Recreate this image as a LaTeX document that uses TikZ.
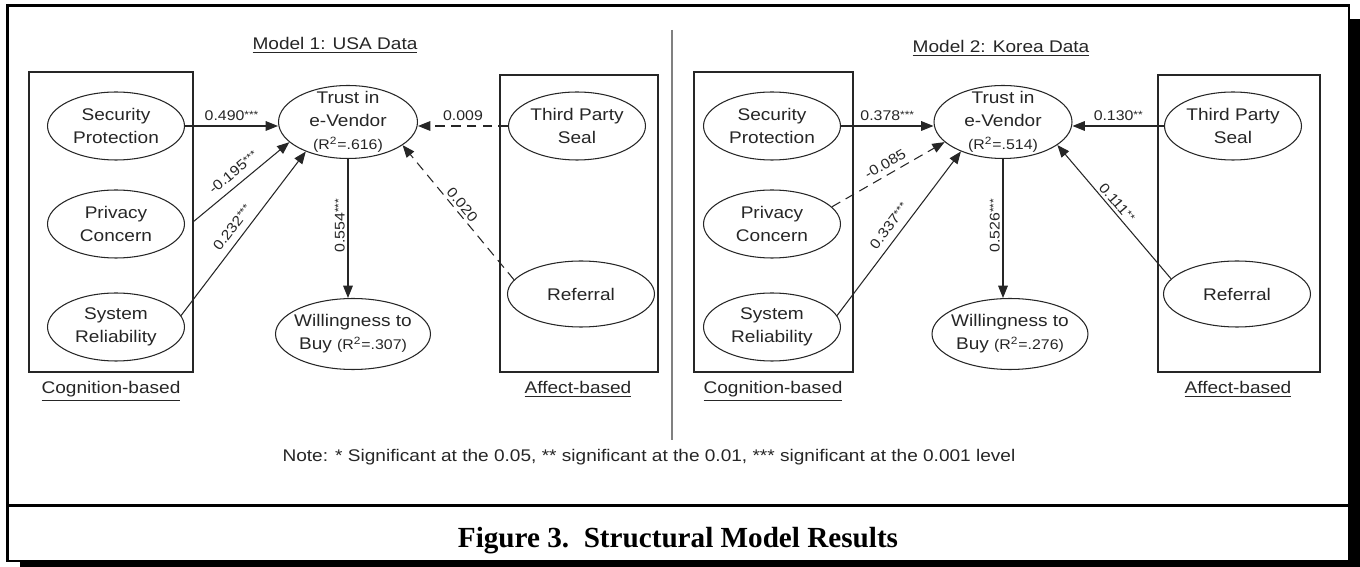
\documentclass[tikz,border=0pt]{standalone}
\usepackage{fontspec}
\setmainfont{Liberation Sans}[FakeStretch=1.13]
\newfontfamily\capfont{Liberation Serif}
\usetikzlibrary{arrows.meta,shapes.geometric}
\def\stars#1{\raisebox{1.4pt}{\fontsize{6}{6}\selectfont#1}}
\def\rsquare#1{{\fontsize{8}{10}\selectfont(R\textsuperscript{2}=#1)}}
\tikzset{
	construct/.style={ellipse, draw=black!85, line width=0.6pt, inner xsep=-4pt, inner ysep=-6pt, minimum width=2.74cm, minimum height=1.36cm, align=center, text=black!85, font=\fontsize{9.6}{13}\selectfont},
	grp/.style={draw=black!85, line width=0.6pt},
	pth/.style={draw=black!85, line width=0.6pt, -{Triangle[length=7pt,width=5.5pt]}},
	dpth/.style={pth, dash pattern=on 5.5pt off 3.5pt},
	coef/.style={text=black!85, font=\fontsize{8}{10}\selectfont, inner sep=1.5pt},
	scoef/.style={coef, sloped, above, inner ysep=4pt},
	hdr/.style={text=black!85, font=\fontsize{9.6}{12}\selectfont, anchor=base}
}

\begin{document}
\begin{tikzpicture}[x=0.02cm, y=-0.02cm]
			\useasboundingbox (0,0) rectangle (1360,567);
			
			%%%%% FRAME %%%%%
			
			\fill (20,561) rectangle (1360,567);
			\fill (1349,19) rectangle (1360,567);
			\draw[line width=1.4pt, fill=white] (7.5,5.5) rectangle (1349,561);
			\draw[line width=1.2pt] (7.5,505.5) -- (1349,505.5);
			\draw[line width=1pt, color=black!50] (672,30) -- (672,440);
			
			%%%%% MODEL 1 %%%%%
			
			\node[hdr] (ttl1) at (335,50) {\underline{Model 1: USA Data}};
			\draw[grp] (29,72) rectangle (193,372);
			\draw[grp] (500,75) rectangle (658,372);
			\node[hdr] (cog1) at (111,394) {\underline{Cognition-based}};
			\node[hdr] (aff1) at (578,394) {\underline{Affect-based}};
			
			\node[construct] (sp1) at (116,126) {Security\\Protection};
			\node[construct] (pc1) at (116,224) {Privacy\\Concern};
			\node[construct] (sr1) at (116,327) {System\\Reliability};
			\node[construct, minimum width=2.78cm, minimum height=1.46cm] (tr1) at (348,122) {Trust in\\e-Vendor\\\rsquare{.616}};
			\node[construct, minimum width=3.1cm, minimum height=1.42cm] (wb1) at (353,334) {Willingness to\\Buy \rsquare{.307}};
			\node[construct] (tp1) at (577,126) {Third Party\\Seal};
			\node[construct, minimum width=2.94cm, minimum height=1.32cm] (rf1) at (581,294) {Referral};
			\coordinate (pc1out) at (193,222);
			
			\draw[pth] (sp1.east) -- (sp1.east -| tr1.west) node[coef, midway, above=1pt] {0.490\stars{***}};
			\draw[pth] (pc1out) -- (tr1.199) node[scoef, midway] {-0.195\stars{***}};
			\draw[pth] (sr1.10) -- (tr1.215) node[scoef, pos=.49] {0.232\stars{***}};
			\draw[pth] (tr1.south) -- (tr1.south |- wb1.north) node[coef, pos=.48, rotate=90, anchor=south] {0.554\stars{***}};
			\draw[dpth] (tp1.west) -- (tp1.west -| tr1.east) node[coef, midway, above=1pt] {0.009};
			\draw[dpth] (rf1.168) -- (tr1.337) node[coef, pos=.52, sloped, above] {0.020};
			
			%%%%% MODEL 2 %%%%%
			
			\node[hdr] (ttl2) at (1001,53) {\underline{Model 2: Korea Data}};
			\draw[grp] (694,72) rectangle (853,372);
			\draw[grp] (1158,75) rectangle (1320,372);
			\node[hdr] (cog2) at (773,394) {\underline{Cognition-based}};
			\node[hdr] (aff2) at (1238,394) {\underline{Affect-based}};
			
			\node[construct] (sp2) at (772,126) {Security\\Protection};
			\node[construct] (pc2) at (772,224) {Privacy\\Concern};
			\node[construct] (sr2) at (772,327) {System\\Reliability};
			\node[construct, minimum width=2.76cm, minimum height=1.46cm] (tr2) at (1003,122) {Trust in\\e-Vendor\\\rsquare{.514}};
			\node[construct, minimum width=3.12cm, minimum height=1.42cm] (wb2) at (1010,334) {Willingness to\\Buy \rsquare{.276}};
			\node[construct] (tp2) at (1233,126) {Third Party\\Seal};
			\node[construct, minimum width=2.94cm, minimum height=1.32cm] (rf2) at (1237,294) {Referral};
			
			\draw[pth] (sp2.east) -- (sp2.east -| tr2.west) node[coef, midway, above=1pt] {0.378\stars{***}};
			\draw[dpth] (pc2.16) -- (tr2.199) node[scoef, pos=.52, inner ysep=3pt] {-0.085};
			\draw[pth] (sr2.10) -- (tr2.215) node[scoef, pos=.5] {0.337\stars{***}};
			\draw[pth] (tr2.south) -- (tr2.south |- wb2.north) node[coef, pos=.48, rotate=90, anchor=south] {0.526\stars{***}};
			\draw[pth] (tp2.west) -- (tp2.west -| tr2.east) node[coef, midway, above=1pt] {0.130\stars{**}};
			\draw[pth] (rf2.167) -- (tr2.337) node[coef, pos=.53, sloped, above] {0.111\stars{**}};
			
			%%%%% NOTE AND CAPTION %%%%%
			
			\node[hdr] (note) at (649,462) {Note: * Significant at the 0.05, ** significant at the 0.01, *** significant at the 0.001 level};
			\node[anchor=base, font=\capfont\bfseries\fontsize{16.6}{20}\selectfont] (cap) at (678,548) {Figure 3.\ \ Structural Model Results};
			
		\end{tikzpicture}
\end{document}
